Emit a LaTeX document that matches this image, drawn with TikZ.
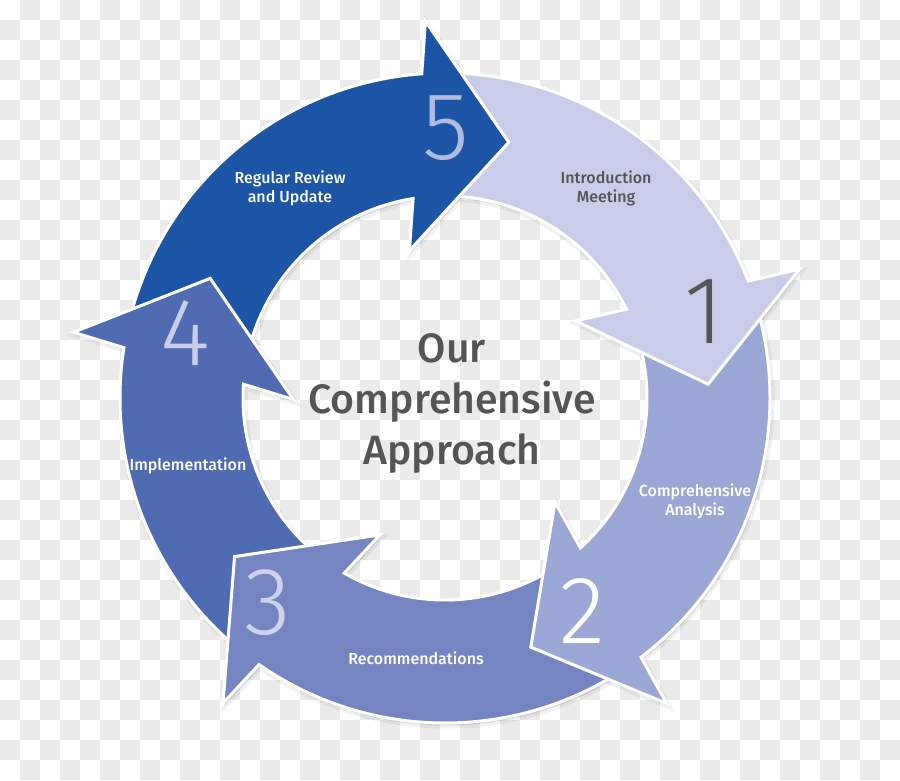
\documentclass[tikz,border=0pt]{standalone}
\usepackage{fontspec}
\setmainfont{Fira Sans Medium}
\newfontfamily\numfont{Fira Sans Light}
\usepackage{xcolor}
\usepackage{tikz}

\definecolor{stepfive}{RGB}{28,85,165}
\definecolor{stepone}{RGB}{201,205,233}
\definecolor{steptwo}{RGB}{155,167,212}
\definecolor{stepthree}{RGB}{117,133,193}
\definecolor{stepfour}{RGB}{79,108,179}
\definecolor{checker}{RGB}{235,235,235}
\definecolor{greytext}{RGB}{85,85,85}

\tikzset{
  ringarrow/.style  ={draw=white, line width=3, line join=miter},
  arrowshadow/.style={fill=black, fill opacity=0.10, draw=black, draw opacity=0.05, line width=6},
  steplabel/.style  ={align=center, text=white, font=\fontsize{16}{19}\selectfont},
  stepnum/.style    ={font={\numfont\fontsize{96}{96}\selectfont}},
  title/.style      ={align=center, text=greytext, font=\fontsize{41}{51}\selectfont},
}

% #1 angle of the head base, #2 length of the body, #3 style
\newcommand{\cyclearrow}[3]{%
  \begin{scope}[rotate=#1]
    \path[#3] (#2:325) arc[start angle=#2, end angle=-1.906, radius=325]
      -- (376.75,-19.97) -- (247.61,-90.12) -- (150.25,19.97) -- (3.09:202)
      arc[start angle=3.09, end angle=#2, radius=202] -- cycle;
  \end{scope}}

\begin{document}
\begin{tikzpicture}[x=1pt, y=1pt]
  \useasboundingbox (-445,-382) rectangle (455,398);
  \fill[white] (-445,-382) rectangle (455,398);
  \foreach \i in {0,...,44}{
    \foreach \j in {0,...,38}{
      \pgfmathtruncatemacro\odd{mod(\i+\j,2)}
      \ifnum\odd=1 \fill[checker] (20*\i-445, 398-20*\j) rectangle ++(20,-20); \fi
    }
  }

  % shadows
  \begin{scope}[shift={(1.5,-2.5)}]
    \cyclearrow{96}{72}{arrowshadow}
    \cyclearrow{173}{59}{arrowshadow}
    \cyclearrow{-123}{67}{arrowshadow}
    \cyclearrow{-51}{69}{arrowshadow}
    \cyclearrow{23}{68}{arrowshadow}
  \end{scope}

  \cyclearrow{96}{72}{ringarrow, fill=stepfive}
  \cyclearrow{173}{59}{ringarrow, fill=stepfour}
  \cyclearrow{-123}{67}{ringarrow, fill=stepthree}
  \cyclearrow{-51}{69}{ringarrow, fill=steptwo}
  \cyclearrow{23}{68}{ringarrow, fill=stepone}
  % head of 5 lies over the tail of 1
  \begin{scope}
    \clip (0,0) -- (112:520) -- (85:560) -- (58:520) -- cycle;
    \cyclearrow{96}{72}{ringarrow, fill=stepfive}
  \end{scope}

  \node[stepnum, text=stepone!85!stepfive] (five) at (1,270) {5};
  \node[stepnum, text=greytext] (one) at (259,86) {1};
  \node[stepnum, text=white] (two) at (137,-213) {2};
  \node[stepnum, text=stepone!90!white] (three) at (-177,-205) {3};
  \node[stepnum, text=stepone] (four) at (-260,65) {4};

  \node[steplabel, text=white!92!stepone] (review) at (-155,210) {Regular Review\\and Update};
  \node[steplabel, text=greytext] (intro) at (161,210) {Introduction\\Meeting};
  \node[steplabel] (analysis) at (250,-103) {Comprehensive\\Analysis};
  \node[steplabel] (recomm) at (-29,-260) {Recommendations};
  \node[steplabel] (impl) at (-257,-68) {Implementation};

  \node[title] (approach) at (7,-5) {Our\\Comprehensive\\Approach};
\end{tikzpicture}
\end{document}
